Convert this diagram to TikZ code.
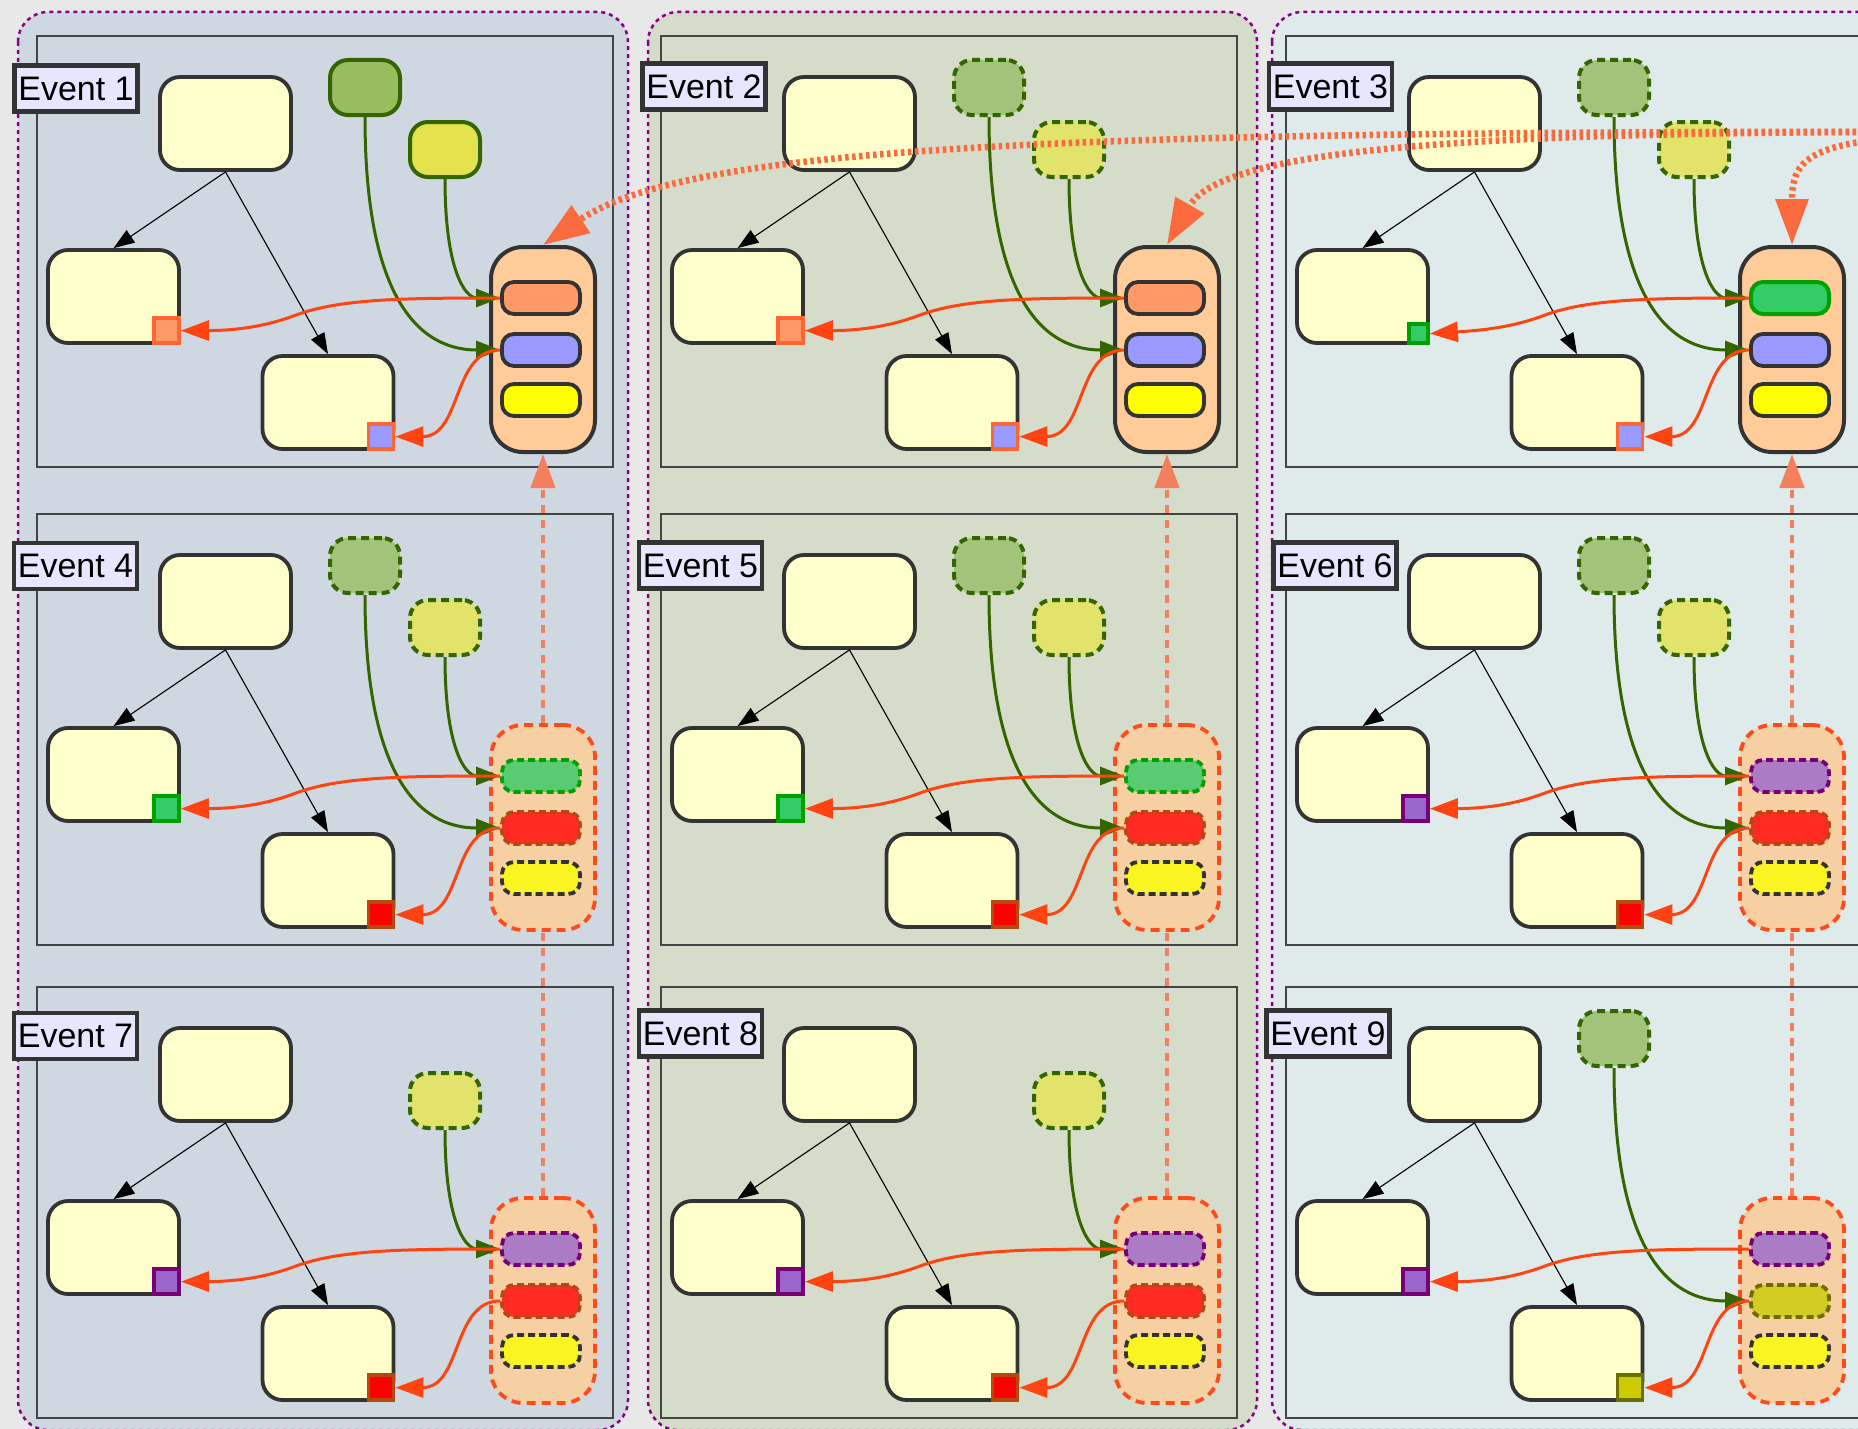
\documentclass[tikz,border=0pt]{standalone}
\usepackage{fontspec}
\setmainfont{Liberation Sans}
\usetikzlibrary{arrows.meta}
\definecolor{bgc}{HTML}{E8E8E8}
\definecolor{colA}{HTML}{CFD7E1}
\definecolor{colB}{HTML}{D5DDCA}
\definecolor{colC}{HTML}{DFEBEA}
\definecolor{purp}{HTML}{880088}
\definecolor{frame}{HTML}{444444}
\definecolor{dk}{HTML}{333333}
\definecolor{yfill}{HTML}{FFFFCC}
\definecolor{labfill}{HTML}{E6E6FF}
\definecolor{dgreen}{HTML}{336600}
\definecolor{gfill}{HTML}{97BD5F}
\definecolor{gfilld}{HTML}{A2C47A}
\definecolor{ygfill}{HTML}{E5E34D}
\definecolor{ygfilld}{HTML}{E1E36A}
\definecolor{cfill}{HTML}{FFCC99}
\definecolor{cfilld}{HTML}{F6CFA3}
\definecolor{cdash}{HTML}{FF4A1A}
\definecolor{sorange}{HTML}{FF9966}
\definecolor{sblue}{HTML}{9999FF}
\definecolor{syellow}{HTML}{FFFF00}
\definecolor{sgreen}{HTML}{33CC66}
\definecolor{sgreenbd}{HTML}{00A000}
\definecolor{dgreenf}{HTML}{5ACB72}
\definecolor{dred}{HTML}{FF2B22}
\definecolor{dredbd}{HTML}{B34A12}
\definecolor{dyellow}{HTML}{FAF520}
\definecolor{dpurple}{HTML}{AB7BC4}
\definecolor{purbd}{HTML}{770077}
\definecolor{dolive}{HTML}{D3CC22}
\definecolor{olivebd}{HTML}{6E6E00}
\definecolor{sqorbd}{HTML}{FF6633}
\definecolor{sqred}{HTML}{FF0000}
\definecolor{sqpurple}{HTML}{9966CC}
\definecolor{sqolive}{HTML}{CCCC00}
\definecolor{rarrow}{HTML}{FF4411}
\definecolor{vc}{HTML}{F47F5C}
\definecolor{dotc}{HTML}{FA6A3C}
\tikzset{
 colbox/.style={draw=purp, line width=2.5pt, dash pattern=on 4pt off 4pt, rounded corners=30pt},
 panelframe/.style={draw=frame, line width=1.3pt},
 ybox/.style={draw=dk, line width=3.8pt, fill=yfill, rounded corners=20pt, minimum width=131pt, minimum height=93pt, inner sep=0pt},
 gsolid/.style={draw=dgreen, line width=4pt, fill=gfill, rounded corners=18pt, minimum width=70pt, minimum height=55pt, inner sep=0pt},
 gdash/.style={gsolid, fill=gfilld, dash pattern=on 8pt off 5pt},
 ysolid/.style={gsolid, fill=ygfill},
 ydash/.style={gdash, fill=ygfilld},
 contsolid/.style={draw=dk, line width=4pt, fill=cfill, rounded corners=32pt, minimum width=104pt, minimum height=205pt, inner sep=0pt},
 contdash/.style={contsolid, draw=cdash, fill=cfilld, line width=3.8pt, dash pattern=on 9pt off 6pt},
 slot/.style={draw=dk, line width=3.8pt, rounded corners=12pt, minimum width=78pt, minimum height=32pt, inner sep=0pt},
 dslot/.style={slot, dash pattern=on 7pt off 4pt},
 sq/.style={line width=3.5pt, minimum size=25pt, inner sep=0pt},
 evlabel/.style={draw=dk, line width=4.5pt, fill=labfill, minimum width=123pt, minimum height=46pt, inner sep=0pt, font=\fontsize{34}{38}\selectfont},
 blk/.style={draw=black, line width=1.1pt, -{Triangle[length=21pt,width=15pt]}},
 redarr/.style={draw=rarrow, line width=3pt, -{Triangle[length=28pt,width=20pt]}},
 grarr/.style={draw=dgreen, line width=3pt, -{Triangle[length=24pt,width=18pt]}},
 vconn/.style={draw=vc, line width=4.5pt, dash pattern=on 8pt off 7pt},
 vconnarr/.style={vconn, -{Triangle[length=34pt,width=24pt]}},
 bigdot/.style={draw=dotc, line width=6.5pt, dash pattern=on 3.5pt off 3.5pt, -{Triangle[length=46pt,width=32pt]}}
}
\newcommand{\greenpart}[2]{%
 \node[#2] (gb#1) at (365,87.5) {};
 \draw[grarr] (gb#1.south) .. controls (365,300) and (420,350) .. (sB#1.west);}
\newcommand{\ygpart}[2]{%
 \node[#2] (yg#1) at (445,149.5) {};
 \draw[grarr] (yg#1.south) .. controls (445,270) and (465,298) .. (sA#1.west);}
\newcommand{\evpanel}[5]{%
\begin{scope}[shift={(#2,#3)},#4]
 \draw[panelframe] (37,36) rectangle (613,467);
 \node[ybox] (top#1) at (225.5,123.5) {};
 \node[ybox] (lbox#1) at (113.5,296.5) {};
 \node[ybox] (bbox#1) at (328,402.5) {};
 \node[cont] (cont#1) at (543,349.5) {};
 \node[sA] (sA#1) at (541,298) {};
 \node[sB] (sB#1) at (541,350) {};
 \node[sC] (sC#1) at (541,400) {};
 \node[sqL,anchor=south east] (lsq#1) at (lbox#1.south east) {};
 \node[sqB,anchor=south east] (bsq#1) at (bbox#1.south east) {};
 \draw[blk] (top#1.south) -- (lbox#1.north);
 \draw[blk] (top#1.south) -- (bbox#1.north);
 #5
 \draw[redarr] (sA#1.west) .. controls (400,298) and (340,299) .. (296,315) .. controls (262,328) and (230,330.5) .. (lsq#1.east);
 \draw[redarr] (sB#1.west) .. controls (452,350) and (462,436.5) .. (bsq#1.east);
\end{scope}}
\begin{document}
\begin{tikzpicture}[x=1pt,y=-1pt]
\useasboundingbox (0,0) rectangle (1858,1429);
\clip (0,0) rectangle (1858,1429);
\fill[bgc] (0,0) rectangle (1858,1429);
% columns
\filldraw[colbox, fill=colA] (18,12) rectangle (628,1430);
\filldraw[colbox, fill=colB] (648,12) rectangle (1257,1430);
\filldraw[colbox, fill=colC] (1272,12) rectangle (1890,1430);
% row 1
\evpanel{1}{0}{0}{cont/.style={contsolid}, sA/.style={slot,fill=sorange}, sB/.style={slot,fill=sblue}, sC/.style={slot,fill=syellow}, sqL/.style={sq,draw=sqorbd,fill=sorange}, sqB/.style={sq,draw=sqorbd,fill=sblue}}{\greenpart{1}{gsolid}\ygpart{1}{ysolid}}
\evpanel{2}{624}{0}{cont/.style={contsolid}, sA/.style={slot,fill=sorange}, sB/.style={slot,fill=sblue}, sC/.style={slot,fill=syellow}, sqL/.style={sq,draw=sqorbd,fill=sorange}, sqB/.style={sq,draw=sqorbd,fill=sblue}}{\greenpart{2}{gdash}\ygpart{2}{ydash}}
\evpanel{3}{1249}{0}{cont/.style={contsolid}, sA/.style={slot,draw=sgreenbd,line width=4pt,fill=sgreen}, sB/.style={slot,fill=sblue}, sC/.style={slot,fill=syellow}, sqL/.style={sq,minimum size=19pt,draw=sgreenbd,fill=sgreen}, sqB/.style={sq,draw=sqorbd,fill=sblue}}{\greenpart{3}{gdash}\ygpart{3}{ydash}}
% row 2
\evpanel{4}{0}{478}{cont/.style={contdash}, sA/.style={dslot,draw=sgreenbd,fill=dgreenf}, sB/.style={dslot,draw=dredbd,fill=dred}, sC/.style={dslot,fill=dyellow}, sqL/.style={sq,draw=sgreenbd,fill=sgreen}, sqB/.style={sq,draw=dredbd,fill=sqred}}{\greenpart{4}{gdash}\ygpart{4}{ydash}}
\evpanel{5}{624}{478}{cont/.style={contdash}, sA/.style={dslot,draw=sgreenbd,fill=dgreenf}, sB/.style={dslot,draw=dredbd,fill=dred}, sC/.style={dslot,fill=dyellow}, sqL/.style={sq,draw=sgreenbd,fill=sgreen}, sqB/.style={sq,draw=dredbd,fill=sqred}}{\greenpart{5}{gdash}\ygpart{5}{ydash}}
\evpanel{6}{1249}{478}{cont/.style={contdash}, sA/.style={dslot,draw=purbd,fill=dpurple}, sB/.style={dslot,draw=dredbd,fill=dred}, sC/.style={dslot,fill=dyellow}, sqL/.style={sq,draw=purbd,fill=sqpurple}, sqB/.style={sq,draw=dredbd,fill=sqred}}{\greenpart{6}{gdash}\ygpart{6}{ydash}}
% row 3
\evpanel{7}{0}{951}{cont/.style={contdash}, sA/.style={dslot,draw=purbd,fill=dpurple}, sB/.style={dslot,draw=dredbd,fill=dred}, sC/.style={dslot,fill=dyellow}, sqL/.style={sq,draw=purbd,fill=sqpurple}, sqB/.style={sq,draw=dredbd,fill=sqred}}{\ygpart{7}{ydash}}
\evpanel{8}{624}{951}{cont/.style={contdash}, sA/.style={dslot,draw=purbd,fill=dpurple}, sB/.style={dslot,draw=dredbd,fill=dred}, sC/.style={dslot,fill=dyellow}, sqL/.style={sq,draw=purbd,fill=sqpurple}, sqB/.style={sq,draw=dredbd,fill=sqred}}{\ygpart{8}{ydash}}
\evpanel{9}{1249}{951}{cont/.style={contdash}, sA/.style={dslot,draw=purbd,fill=dpurple}, sB/.style={dslot,draw=olivebd,fill=dolive}, sC/.style={dslot,fill=dyellow}, sqL/.style={sq,draw=purbd,fill=sqpurple}, sqB/.style={sq,draw=olivebd,fill=sqolive}}{\greenpart{9}{gdash}}
% labels
\node[evlabel] (lab1) at (76,88.5) {Event 1};
\node[evlabel] (lab2) at (704,86.5) {Event 2};
\node[evlabel] (lab3) at (1330.5,86.5) {Event 3};
\node[evlabel] (lab4) at (75.5,566) {Event 4};
\node[evlabel] (lab5) at (700.5,565.5) {Event 5};
\node[evlabel] (lab6) at (1335,565.5) {Event 6};
\node[evlabel] (lab7) at (75.5,1036) {Event 7};
\node[evlabel] (lab8) at (700.5,1033.5) {Event 8};
\node[evlabel] (lab9) at (1328,1033.5) {Event 9};
% vertical connectors
\draw[vconnarr] (cont4.north) -- (cont1.south);
\draw[vconnarr] (cont5.north) -- (cont2.south);
\draw[vconnarr] (cont6.north) -- (cont3.south);
\draw[vconn] (cont7.north) -- (cont4.south);
\draw[vconn] (cont8.north) -- (cont5.south);
\draw[vconn] (cont9.north) -- (cont6.south);
% big dotted curves from the right
\coordinate (src) at (2150,132);
\draw[bigdot] (src) .. controls (1150,130) and (700,138) .. (cont1.north);
\draw[bigdot] (src) .. controls (1600,130) and (1230,135) .. (cont2.north);
\draw[bigdot] (src) .. controls (1830,132) and (1792,140) .. (cont3.north);
\end{tikzpicture}
\end{document}
